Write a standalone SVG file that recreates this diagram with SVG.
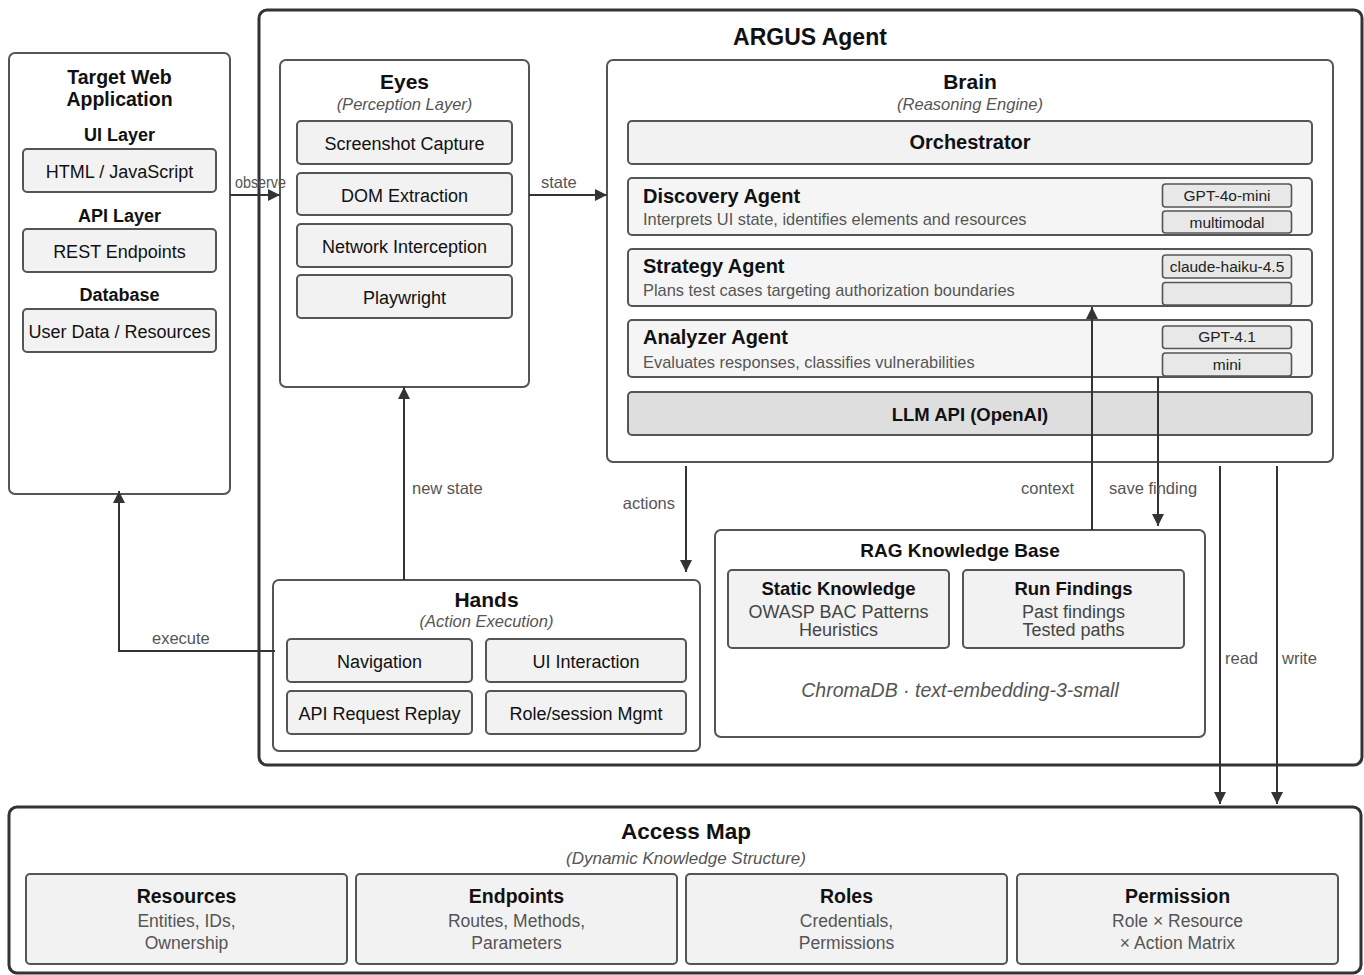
<svg xmlns="http://www.w3.org/2000/svg" width="1364" height="975" viewBox="0 0 1364 975">
<defs>
<marker id="arr" markerUnits="userSpaceOnUse" markerWidth="13" markerHeight="12" refX="12" refY="6" orient="auto">
<path d="M0,0 L12,6 L0,12 z" fill="#333"/>
</marker>
<style>
text{font-family:"Liberation Sans",Arial,sans-serif;}
.outer{fill:#fff;stroke:#555;stroke-width:2;}
.argus{fill:#fff;stroke:#333;stroke-width:3;}
.sub{fill:#f2f2f2;stroke:#555;stroke-width:2;}
.agent{fill:#f5f5f5;stroke:#555;stroke-width:2;}
.tag{fill:#e8e8e8;stroke:#555;stroke-width:1.6;}
.llm{fill:#dedede;stroke:#555;stroke-width:2;}
.c{text-anchor:middle;}
.title{font-weight:bold;font-size:21px;fill:#111;}
.head{font-weight:bold;font-size:18px;fill:#111;}
.italic{font-style:italic;font-size:16.5px;fill:#555;}
.item{font-size:18px;fill:#111;}
.desc{font-size:16.4px;fill:#555;}
.tagt{font-size:15.5px;fill:#222;}
.agname{font-weight:bold;font-size:20px;fill:#111;}
.body{font-size:18px;fill:#444;}
.amb{font-size:17.5px;fill:#555;}
.lbl{font-size:16.5px;fill:#555;}
.conn{fill:none;stroke:#333;stroke-width:2;}
</style>
</defs>
<rect width="1364" height="975" fill="#fff"/>

<g id="argus">
<rect class="argus" x="259" y="10" width="1103" height="755" rx="8"/>
<text class="c" x="810" y="45" style="font-weight:bold;font-size:23px;fill:#111">ARGUS Agent</text>
</g>

<g id="target">
<rect class="outer" x="9" y="53" width="221" height="441" rx="6"/>
<text class="c" x="119.5" y="84" style="font-weight:bold;font-size:19.5px;fill:#111">Target Web</text>
<text class="c" x="119.5" y="106" style="font-weight:bold;font-size:19.5px;fill:#111">Application</text>
<text class="c head" x="119.5" y="141">UI Layer</text>
<rect class="sub" x="23" y="149" width="193" height="43" rx="4"/>
<text class="c item" x="119.5" y="178">HTML / JavaScript</text>
<text class="c head" x="119.5" y="222">API Layer</text>
<rect class="sub" x="23" y="229" width="193" height="43" rx="4"/>
<text class="c item" x="119.5" y="258">REST Endpoints</text>
<text class="c head" x="119.5" y="301">Database</text>
<rect class="sub" x="23" y="309" width="193" height="43" rx="4"/>
<text class="c item" x="119.5" y="338">User Data / Resources</text>
</g>

<g id="eyes">
<rect class="outer" x="280" y="60" width="249" height="327" rx="6"/>
<text class="c title" x="404.5" y="89">Eyes</text>
<text class="c italic" x="404.5" y="109.5">(Perception Layer)</text>
<rect class="sub" x="297" y="121" width="215" height="43" rx="4"/>
<text class="c item" x="404.5" y="150">Screenshot Capture</text>
<rect class="sub" x="297" y="173" width="215" height="42" rx="4"/>
<text class="c item" x="404.5" y="201.5">DOM Extraction</text>
<rect class="sub" x="297" y="224" width="215" height="43" rx="4"/>
<text class="c item" x="404.5" y="253">Network Interception</text>
<rect class="sub" x="297" y="275" width="215" height="43" rx="4"/>
<text class="c item" x="404.5" y="303.5">Playwright</text>
</g>

<g id="brain">
<rect class="outer" x="607" y="60" width="726" height="402" rx="6"/>
<text class="c title" x="970" y="89">Brain</text>
<text class="c italic" x="970" y="109.5">(Reasoning Engine)</text>
<rect class="sub" x="628" y="121" width="684" height="43" rx="4"/>
<text class="c" x="970" y="149" style="font-weight:bold;font-size:20px;fill:#111">Orchestrator</text>
</g>

<g id="discovery">
<rect class="agent" x="628" y="178" width="684" height="57" rx="4"/>
<text class="agname" x="643" y="203">Discovery Agent</text>
<text class="desc" x="643" y="225">Interprets UI state, identifies elements and resources</text>
<rect class="tag" x="1162.5" y="184" width="129" height="23" rx="3"/>
<text class="c tagt" x="1227" y="200.5">GPT-4o-mini</text>
<rect class="tag" x="1162.5" y="211" width="129" height="22" rx="3"/>
<text class="c tagt" x="1227" y="227.5">multimodal</text>
</g>

<g id="strategy">
<rect class="agent" x="628" y="249" width="684" height="57" rx="4"/>
<text class="agname" x="643" y="273">Strategy Agent</text>
<text class="desc" x="643" y="296">Plans test cases targeting authorization boundaries</text>
<rect class="tag" x="1162.5" y="255" width="129" height="23" rx="3"/>
<text class="c tagt" x="1227" y="271.5">claude-haiku-4.5</text>
<rect class="tag" x="1162.5" y="282.5" width="129" height="22.5" rx="3"/>
</g>

<g id="analyzer">
<rect class="agent" x="628" y="320" width="684" height="57" rx="4"/>
<text class="agname" x="643" y="344">Analyzer Agent</text>
<text class="desc" x="643" y="367.5">Evaluates responses, classifies vulnerabilities</text>
<rect class="tag" x="1162.5" y="326" width="129" height="22.5" rx="3"/>
<text class="c tagt" x="1227" y="342">GPT-4.1</text>
<rect class="tag" x="1162.5" y="353" width="129" height="23" rx="3"/>
<text class="c tagt" x="1227" y="369.5">mini</text>
</g>

<g id="llm">
<rect class="llm" x="628" y="392" width="684" height="43" rx="4"/>
<text class="c" x="970" y="421" style="font-weight:bold;font-size:18.5px;fill:#111">LLM API (OpenAI)</text>
</g>

<g id="hands">
<rect class="outer" x="273" y="580" width="427" height="171" rx="6"/>
<text class="c title" x="486.5" y="607">Hands</text>
<text class="c italic" x="486.5" y="627">(Action Execution)</text>
<rect class="sub" x="287" y="639" width="185" height="43" rx="4"/>
<text class="c item" x="379.5" y="668">Navigation</text>
<rect class="sub" x="486" y="639" width="200" height="43" rx="4"/>
<text class="c item" x="586" y="668">UI Interaction</text>
<rect class="sub" x="287" y="691" width="185" height="43" rx="4"/>
<text class="c item" x="379.5" y="720">API Request Replay</text>
<rect class="sub" x="486" y="691" width="200" height="43" rx="4"/>
<text class="c item" x="586" y="720">Role/session Mgmt</text>
</g>

<g id="rag">
<rect class="outer" x="715" y="530" width="490" height="207" rx="6"/>
<text class="c" x="960" y="557" style="font-weight:bold;font-size:19px;fill:#111">RAG Knowledge Base</text>
<rect class="sub" x="728" y="570" width="221" height="78" rx="4"/>
<text class="c" x="838.5" y="595" style="font-weight:bold;font-size:18.5px;fill:#111">Static Knowledge</text>
<text class="c body" x="838.5" y="618">OWASP BAC Patterns</text>
<text class="c body" x="838.5" y="636">Heuristics</text>
<rect class="sub" x="963" y="570" width="221" height="78" rx="4"/>
<text class="c" x="1073.5" y="595" style="font-weight:bold;font-size:18.5px;fill:#111">Run Findings</text>
<text class="c body" x="1073.5" y="618">Past findings</text>
<text class="c body" x="1073.5" y="636">Tested paths</text>
<text class="c" x="960" y="697" style="font-style:italic;font-size:19.5px;fill:#555">ChromaDB · text-embedding-3-small</text>
</g>

<g id="accessmap">
<rect class="argus" x="9" y="807" width="1352" height="166" rx="8"/>
<text class="c" x="686" y="839" style="font-weight:bold;font-size:22.5px;fill:#111">Access Map</text>
<text class="c" x="686" y="864" style="font-style:italic;font-size:17px;fill:#555">(Dynamic Knowledge Structure)</text>
</g>

<g id="am-resources">
<rect class="sub" x="26" y="874" width="321" height="90" rx="4"/>
<text class="c" x="186.5" y="903" style="font-weight:bold;font-size:19.5px;fill:#111">Resources</text>
<text class="c amb" x="186.5" y="927">Entities, IDs,</text>
<text class="c amb" x="186.5" y="949">Ownership</text>
</g>
<g id="am-endpoints">
<rect class="sub" x="356" y="874" width="321" height="90" rx="4"/>
<text class="c" x="516.5" y="903" style="font-weight:bold;font-size:19.5px;fill:#111">Endpoints</text>
<text class="c amb" x="516.5" y="927">Routes, Methods,</text>
<text class="c amb" x="516.5" y="949">Parameters</text>
</g>
<g id="am-roles">
<rect class="sub" x="686" y="874" width="321" height="90" rx="4"/>
<text class="c" x="846.5" y="903" style="font-weight:bold;font-size:19.5px;fill:#111">Roles</text>
<text class="c amb" x="846.5" y="927">Credentials,</text>
<text class="c amb" x="846.5" y="949">Permissions</text>
</g>
<g id="am-permission">
<rect class="sub" x="1017" y="874" width="321" height="90" rx="4"/>
<text class="c" x="1177.5" y="903" style="font-weight:bold;font-size:19.5px;fill:#111">Permission</text>
<text class="c amb" x="1177.5" y="927">Role × Resource</text>
<text class="c amb" x="1177.5" y="949">× Action Matrix</text>
</g>

<g id="connectors">
<path class="conn" d="M230,195 H280" marker-end="url(#arr)"/>
<text class="lbl" x="235" y="188" textLength="51" lengthAdjust="spacingAndGlyphs">observe</text>
<path class="conn" d="M529,195 H607" marker-end="url(#arr)"/>
<text class="lbl" x="541" y="188">state</text>
<path class="conn" d="M404,580 V387" marker-end="url(#arr)"/>
<text class="lbl" x="412" y="494">new state</text>
<path class="conn" d="M686,466 V572" marker-end="url(#arr)"/>
<text class="lbl" x="675" y="509" text-anchor="end">actions</text>
<path class="conn" d="M275,651 H119 V491" marker-end="url(#arr)"/>
<text class="lbl" x="152" y="644">execute</text>
<path class="conn" d="M1092,530 V307" marker-end="url(#arr)"/>
<text class="lbl" x="1021" y="494">context</text>
<path class="conn" d="M1158,377 V526" marker-end="url(#arr)"/>
<text class="lbl" x="1109" y="494">save finding</text>
<path class="conn" d="M1220,466 V804" marker-end="url(#arr)"/>
<text class="lbl" x="1225" y="664">read</text>
<path class="conn" d="M1277,466 V804" marker-end="url(#arr)"/>
<text class="lbl" x="1282" y="664">write</text>
</g>
</svg>
